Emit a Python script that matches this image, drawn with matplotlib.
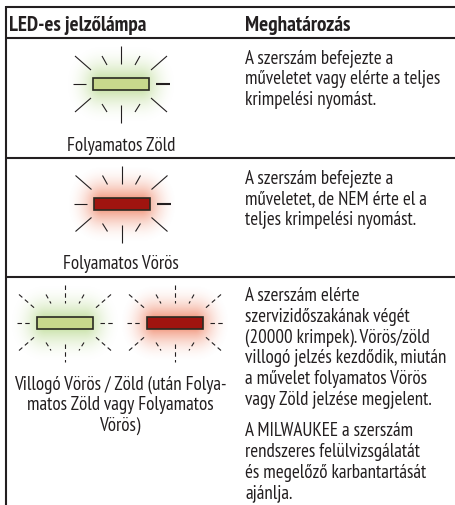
import matplotlib
matplotlib.use("Agg")
import matplotlib.pyplot as plt
import numpy as np

plt.rcParams['font.family'] = ['PT Sans Narrow', 'Noto Sans', 'DejaVu Sans']

# table text
headers = ["LED-es jelzőlámpa", "Meghatározás"]
left_labels = ["Folyamatos Zöld", "Folyamatos Vörös"]
flash_label = ["Villogó Vörös / Zöld (után Folya-", "matos Zöld vagy Folyamatos", "Vörös)"]
right_lines = [
    ["A szerszám befejezte a", "műveletet vagy elérte a teljes", "krimpelési nyomást."],
    ["A szerszám befejezte a", "műveletet, de NEM érte el a", "teljes krimpelési nyomást."],
    ["A szerszám elérte", "szervizidőszakának végét", "(20000 krimpek). Vörös/zöld",
     "villogó jelzés kezdődik, miután", "a művelet folyamatos Vörös", "vagy Zöld jelzése megjelent."],
    ["A MILWAUKEE a szerszám", "rendszeres felülvizsgálatát", "és megelőző karbantartását", "ajánlja."],
]
right_first_baseline = [63, 183, 301, 436]
left_baselines = [150.5, 269]
flash_baseline = 389.5

# layout in image pixels
hlines = [7.7, 39, 159, 277.7]
left_x = 5.5
text_x = 245
line_step = 20.8

# LED lamps
lamps = [(121, 85, "green", False), (121.5, 204.5, "red", False),
         (65, 323.5, "green", True), (175, 323.5, "red", True)]
face = {"green": "#c8d88c", "red": "#a0140f"}
glow = {"green": (0.72, 0.85, 0.55), "red": (0.93, 0.48, 0.35)}
rays = [(0, -38, 0, -20), (0, 21, 0, 39),
        (-46, -28, -30, -14), (46, -28, 30, -14), (-46, 28, -30, 14), (46, 28, 30, 14),
        (-19, -28, -14, -19), (19, -28, 14, -19), (-19, 20, -14, 28), (19, 20, 14, 28),
        (-48, 0, -35, 0), (35, 0, 49, 0)]

fig = plt.figure(figsize=(4.55, 5.06), dpi=100)
ax = fig.add_axes([0, 0, 1, 1])
ax.axis("off")

# soft glow behind each lamp
for cx, cy, col, flash in lamps:
    gx, gy = np.meshgrid(np.linspace(-60, 60, 121), np.linspace(-46, 46, 93))
    dist = np.hypot(np.maximum(np.abs(gx) - 20, 0) / 36, np.maximum(np.abs(gy) - 2, 0) / 38)
    a = np.clip(1 - dist, 0, 1) ** 2
    img = np.zeros(gx.shape + (4,))
    img[..., :3] = glow[col]
    img[..., 3] = a * 0.9
    ax.imshow(img, extent=(cx - 60, cx + 60, cy + 46, cy - 46), zorder=1, interpolation="bilinear")
ax.set_xlim(0, 455)
ax.set_ylim(506, 0)
ax.set_aspect("auto")

for cx, cy, col, flash in lamps:
    ax.add_patch(plt.Rectangle((cx - 28, cy - 6), 56, 12, fc=face[col], ec="#2a2a22", lw=1.2, zorder=3))
    for i, (x0, y0, x1, y1) in enumerate(rays):
        lw = 0.8
        if i == 11 and not flash:
            lw = 1.5
        ax.plot([cx + x0, cx + x1], [cy + y0, cy + y1], color="#231f20", lw=lw, zorder=3,
                ls=(0, (4, 3)) if flash else "-", solid_capstyle="butt", dash_capstyle="butt")

# table rules
for y in hlines:
    ax.plot([left_x, 455], [y, y], color="#231f20", lw=1.5, solid_capstyle="butt", zorder=4)
ax.plot([left_x, left_x], [7, 506], color="#231f20", lw=1.5, solid_capstyle="butt", zorder=4)

# text
ax.text(9, 31, headers[0], fontsize=15, fontweight="bold", color="#231f20", va="baseline")
ax.text(text_x, 31, headers[1], fontsize=15.3, fontweight="bold", color="#231f20", va="baseline")
for lab, y in zip(left_labels, left_baselines):
    ax.text(121, y, lab, fontsize=13.7, ha="center", va="baseline", color="#231f20")
for i, line in enumerate(flash_label):
    ax.text(120, flash_baseline + i * 20.5, line, fontsize=13.7, ha="center", va="baseline", color="#231f20")
for lines, y0 in zip(right_lines, right_first_baseline):
    for i, line in enumerate(lines):
        ax.text(text_x, y0 + i * line_step, line, fontsize=13.7, va="baseline", color="#231f20")

fig.savefig("out.png", dpi=100)
